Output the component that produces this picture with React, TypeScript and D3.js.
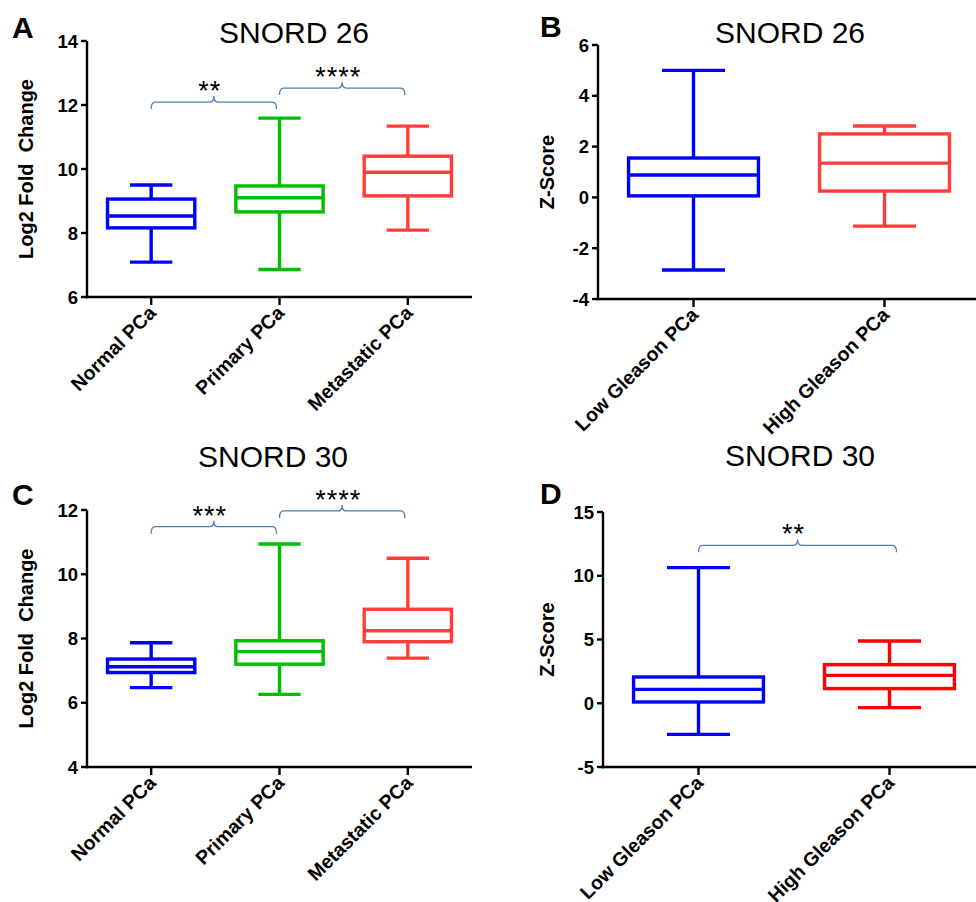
import React from "react";
import * as d3 from "d3";

// ---------- DATA ----------
const catsAC = ["Normal PCa", "Primary PCa", "Metastatic PCa"];
const catsBD = ["Low Gleason PCa", "High Gleason PCa"];

const colorsAC = ["#0000ff", "#00bf00", "#ff3d3d"];
const colorsB = ["#0000ff", "#ff3d3d"];
const colorsD = ["#0000ff", "#ff0000"];

// Panel A – SNORD 26, Log2 fold change
const aMin = [7.09, 6.86, 8.09];
const aQ1 = [8.16, 8.66, 9.16];
const aMed = [8.53, 9.1, 9.9];
const aQ3 = [9.06, 9.47, 10.4];
const aMax = [9.5, 11.59, 11.34];
const aTicks = [6, 8, 10, 12, 14];

// Panel B – SNORD 26, Z-score
const bMin = [-2.86, -1.13];
const bQ1 = [0.06, 0.25];
const bMed = [0.88, 1.35];
const bQ3 = [1.55, 2.5];
const bMax = [5.0, 2.81];
const bTicks = [-4, -2, 0, 2, 4, 6];

// Panel C – SNORD 30, Log2 fold change
const cMin = [6.47, 6.26, 7.39];
const cQ1 = [6.94, 7.2, 7.9];
const cMed = [7.12, 7.59, 8.24];
const cQ3 = [7.36, 7.93, 8.91];
const cMax = [7.87, 10.94, 10.5];
const cTicks = [4, 6, 8, 10, 12];

// Panel D – SNORD 30, Z-score
const dMin = [-2.44, -0.34];
const dQ1 = [0.1, 1.15];
const dMed = [1.09, 2.19];
const dQ3 = [2.06, 3.03];
const dMax = [10.64, 4.88];
const dTicks = [-5, 0, 5, 10, 15];

// Significance brackets: [from, to, level, label]
const aBrackets: [number, number, number, string][] = [
  [0, 1, 12.09, "**"],
  [1, 2, 12.53, "****"],
];
const cBrackets: [number, number, number, string][] = [
  [0, 1, 11.48, "***"],
  [1, 2, 11.97, "****"],
];
const dBrackets: [number, number, number, string][] = [[0, 1, 12.39, "**"]];

// ---------- COMPONENT ----------
type PanelProps = {
  letter: string;
  letterX: number;
  letterY: number;
  title: string;
  titleX: number;
  titleY: number;
  yLabel: string;
  yLabelX: number;
  axisX: number;
  xEnd: number;
  yTop: number;
  yBottom: number;
  ticks: number[];
  cats: string[];
  colors: string[];
  mins: number[];
  q1: number[];
  med: number[];
  q3: number[];
  maxs: number[];
  brackets: [number, number, number, string][];
  bracketEndShift?: number;
};

const FONT = "'Liberation Sans', Arial, Helvetica, sans-serif";

function Panel(p: PanelProps) {
  const y = d3
    .scaleLinear()
    .domain([p.ticks[0], p.ticks[p.ticks.length - 1]])
    .range([p.yBottom, p.yTop]);
  const x = d3.scalePoint<string>().domain(p.cats).range([p.axisX, p.xEnd]).padding(0.5);
  const step = x.step();
  const boxW = step * 0.68;
  const capW = step * 0.33;
  const sw = 3.4;
  const yLabelCenter = (p.yTop + p.yBottom) / 2;
  const endShift = p.bracketEndShift ?? -3;

  return (
    <g>
      <text x={p.letterX} y={p.letterY} fontFamily={FONT} fontWeight="bold" fontSize={30} fill="#000">
        {p.letter}
      </text>
      <text x={p.titleX} y={p.titleY} fontFamily={FONT} fontSize={30} textAnchor="middle" fill="#000">
        {p.title}
      </text>
      <text
        transform={`translate(${p.yLabelX},${yLabelCenter}) rotate(-90)`}
        fontFamily={FONT}
        fontWeight="bold"
        fontSize={20}
        textAnchor="middle"
        dominantBaseline="central"
        style={{ whiteSpace: "pre" }}
        fill="#000"
      >
        {p.yLabel}
      </text>

      {/* axes */}
      <line x1={p.axisX} x2={p.axisX} y1={p.yTop} y2={p.yBottom + 1.2} stroke="#000" strokeWidth={2.4} />
      <line x1={p.axisX - 1.2} x2={p.xEnd} y1={p.yBottom} y2={p.yBottom} stroke="#000" strokeWidth={2.4} />
      {p.ticks.map((t) => (
        <g key={t}>
          <line x1={p.axisX - 6} x2={p.axisX} y1={y(t)} y2={y(t)} stroke="#000" strokeWidth={2.4} />
          <text
            x={p.axisX - 9}
            y={y(t)}
            fontFamily={FONT}
            fontWeight="bold"
            fontSize={18.5}
            textAnchor="end"
            dominantBaseline="central"
            fill="#000"
          >
            {t}
          </text>
        </g>
      ))}
      {p.cats.map((c) => (
        <g key={c}>
          <line x1={x(c)} x2={x(c)} y1={p.yBottom} y2={p.yBottom + 8} stroke="#000" strokeWidth={2.4} />
          <text
            transform={`translate(${(x(c) as number) + 6},${p.yBottom + 17}) rotate(-45)`}
            fontFamily={FONT}
            fontWeight="bold"
            fontSize={19.5}
            textAnchor="end"
            fill="#000"
          >
            {c}
          </text>
        </g>
      ))}

      {/* boxes */}
      {p.cats.map((c, i) => {
        const cx = x(c) as number;
        const col = p.colors[i];
        return (
          <g key={"b" + c} stroke={col} strokeWidth={sw} fill="none">
            <line x1={cx} x2={cx} y1={y(p.q3[i])} y2={y(p.maxs[i])} />
            <line x1={cx} x2={cx} y1={y(p.q1[i])} y2={y(p.mins[i])} />
            <line x1={cx - capW / 2} x2={cx + capW / 2} y1={y(p.maxs[i])} y2={y(p.maxs[i])} />
            <line x1={cx - capW / 2} x2={cx + capW / 2} y1={y(p.mins[i])} y2={y(p.mins[i])} />
            <rect x={cx - boxW / 2} y={y(p.q3[i])} width={boxW} height={y(p.q1[i]) - y(p.q3[i])} />
            <line x1={cx - boxW / 2} x2={cx + boxW / 2} y1={y(p.med[i])} y2={y(p.med[i])} />
          </g>
        );
      })}

      {/* brackets */}
      {p.brackets.map(([f, t, lvl, lab], i) => {
        const x1 = x(p.cats[f]) as number;
        const x2 = (x(p.cats[t]) as number) + endShift;
        const yy = y(lvl);
        const mid = (x1 + x2) / 2;
        const r = 4;
        const d = `M${x1},${yy + 7} Q${x1},${yy} ${x1 + r},${yy} L${mid - r},${yy} Q${mid},${yy} ${mid},${
          yy - 6
        } Q${mid},${yy} ${mid + r},${yy} L${x2 - r},${yy} Q${x2},${yy} ${x2},${yy + 7}`;
        return (
          <g key={"br" + i}>
            <path d={d} fill="none" stroke="#4a7ebf" strokeWidth={1.3} />
            <text
              x={mid - 4}
              y={yy - 2}
              fontFamily={FONT}
              fontSize={27}
              textAnchor="middle"
              letterSpacing={1}
              fill="#000"
            >
              {lab}
            </text>
          </g>
        );
      })}
    </g>
  );
}

export default function App() {
  return (
    <svg
      width={976}
      height={902}
      style={{ position: "absolute", left: 0, top: 0, background: "#fff" }}
    >
      <rect width={976} height={902} fill="#fff" />
      <Panel
        letter="A"
        letterX={12}
        letterY={38}
        title="SNORD 26"
        titleX={294}
        titleY={43}
        yLabel="Log2 Fold  Change"
        yLabelX={26}
        axisX={87}
        xEnd={472}
        yTop={41}
        yBottom={297}
        ticks={aTicks}
        cats={catsAC}
        colors={colorsAC}
        mins={aMin}
        q1={aQ1}
        med={aMed}
        q3={aQ3}
        maxs={aMax}
        brackets={aBrackets}
      />
      <Panel
        letter="B"
        letterX={540}
        letterY={37}
        title="SNORD 26"
        titleX={790}
        titleY={43}
        yLabel="Z-Score"
        yLabelX={547}
        axisX={598}
        xEnd={980}
        yTop={45}
        yBottom={299}
        ticks={bTicks}
        cats={catsBD}
        colors={colorsB}
        mins={bMin}
        q1={bQ1}
        med={bMed}
        q3={bQ3}
        maxs={bMax}
        brackets={[]}
      />
      <Panel
        letter="C"
        letterX={12}
        letterY={505}
        title="SNORD 30"
        titleX={273}
        titleY={467}
        yLabel="Log2 Fold  Change"
        yLabelX={26}
        axisX={87}
        xEnd={472}
        yTop={510}
        yBottom={767}
        ticks={cTicks}
        cats={catsAC}
        colors={colorsAC}
        mins={cMin}
        q1={cQ1}
        med={cMed}
        q3={cQ3}
        maxs={cMax}
        brackets={cBrackets}
      />
      <Panel
        letter="D"
        letterX={540}
        letterY={504}
        title="SNORD 30"
        titleX={800}
        titleY={466}
        yLabel="Z-Score"
        yLabelX={547}
        axisX={603}
        xEnd={985}
        yTop={512}
        yBottom={767}
        ticks={dTicks}
        cats={catsBD}
        colors={colorsD}
        mins={dMin}
        q1={dQ1}
        med={dMed}
        q3={dQ3}
        maxs={dMax}
        brackets={dBrackets}
        bracketEndShift={7}
      />
    </svg>
  );
}
